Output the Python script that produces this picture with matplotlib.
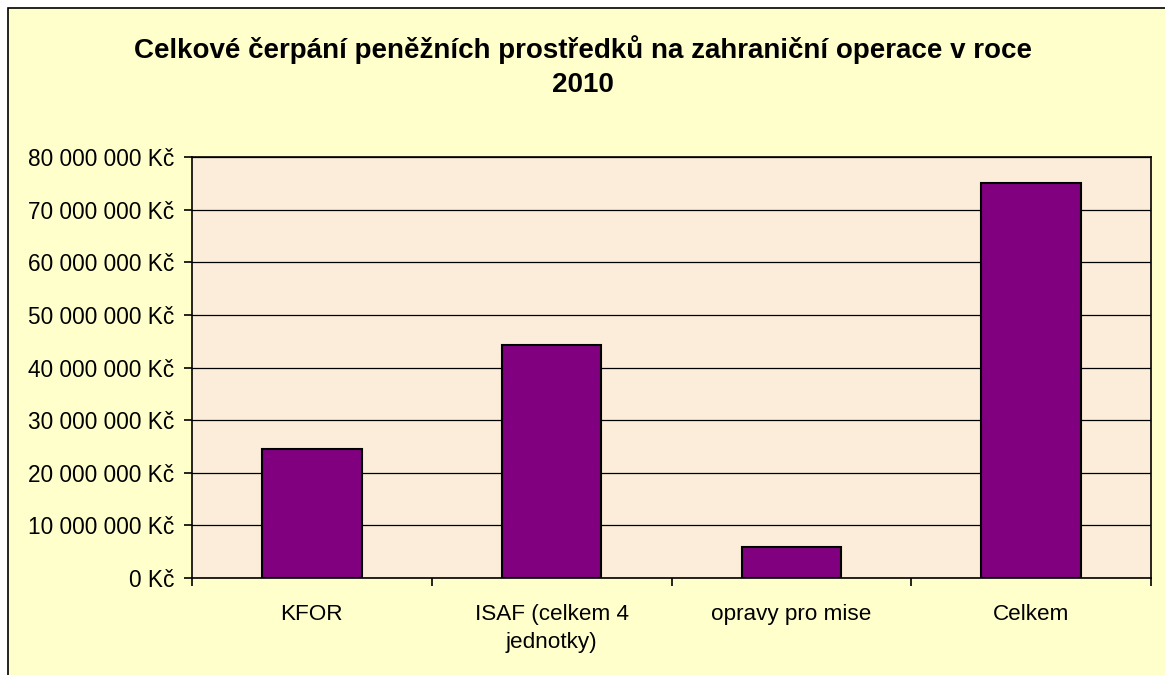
import numpy as np
import matplotlib.pyplot as plt
from matplotlib.patches import Rectangle
from matplotlib.ticker import FuncFormatter, MultipleLocator

# data
kategorie = ["KFOR", "ISAF (celkem 4\njednotky)", "opravy pro mise", "Celkem"]
castky = [24600000, 44200000, 5800000, 75000000]

plt.rcParams['font.family'] = ['Liberation Sans', 'DejaVu Sans']

fig = plt.figure(figsize=(11.65, 6.75), dpi=100)
fig.patch.set_facecolor("white")

# ramecek grafu (zluta oblast)
W, H = 1165, 675
fig.patches.append(Rectangle((8 / W, -0.01), 1.1, 1 - 8 / H + 0.01, transform=fig.transFigure,
                             facecolor="#FFFFCC", edgecolor="black", linewidth=1.2, zorder=-5))

ax = fig.add_axes([192 / W, 1 - 578 / H, (1151 - 192) / W, (578 - 157) / H])
ax.set_facecolor("#FBEDD9")

x = np.arange(len(kategorie))
ax.bar(x, castky, width=0.415, color="#800080", edgecolor="black", linewidth=1.5, zorder=3)

ax.set_xlim(-0.5, len(kategorie) - 0.5)
ax.set_ylim(0, 80000000)
ax.yaxis.set_major_locator(MultipleLocator(10000000))
ax.yaxis.set_major_formatter(FuncFormatter(lambda v, p: "{:,.0f} Kč".format(v).replace(",", " ")))
ax.grid(axis="y", color="black", linewidth=0.9, zorder=1)

ax.set_xticks(x)
ax.set_xticklabels(kategorie, fontsize=16.2, linespacing=1.42)
ax.tick_params(axis="x", length=0, pad=19)
ax.set_xticks(np.arange(-0.5, len(kategorie)), minor=True)
ax.tick_params(axis="x", which="minor", length=6, width=1.2, direction="out")
ax.tick_params(axis="y", labelsize=16.3, length=6, width=1.2, direction="out", pad=7)

for s in ax.spines.values():
    s.set_color("black")
    s.set_linewidth(1.2)

fig.text(0.5, 1 - 67 / H, "Celkové čerpání peněžních prostředků na zahraniční operace v roce\n2010",
         ha="center", va="center", fontsize=20, fontweight="bold", linespacing=1.4)

fig.savefig("out.png", dpi=100, facecolor=fig.get_facecolor())
